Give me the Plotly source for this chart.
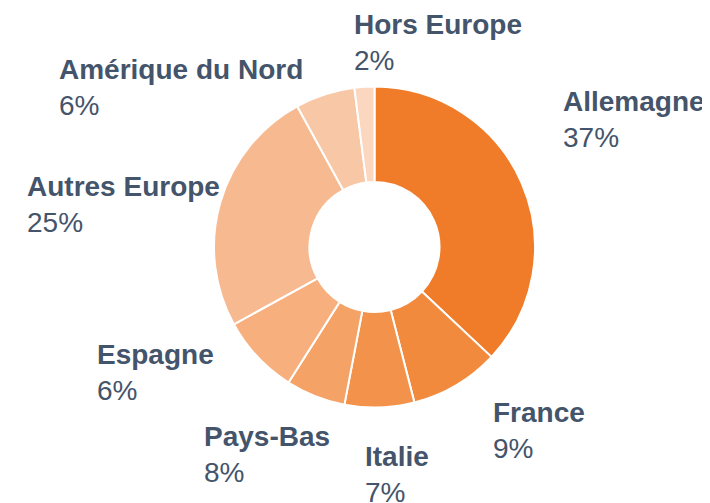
import plotly.graph_objects as go

# Répartition géographique (en %), dans le sens horaire à partir de midi
regions = [
    "Allemagne",
    "France",
    "Italie",
    "Espagne",
    "Pays-Bas",
    "Autres Europe",
    "Amérique du Nord",
    "Hors Europe",
]
shares = [37, 9, 7, 6, 8, 25, 6, 2]
colors = [
    "#F07B28",
    "#F28A3D",
    "#F3924B",
    "#F4A266",
    "#F6AF7D",
    "#F7B990",
    "#F8C7A6",
    "#FAD7BE",
]

W, H = 710, 503
PAGE = 8  # default body margin of the html page: figure starts at (8, 8)
TEXT_COLOR = "#44546A"
FONT = "Liberation Sans, Arial, sans-serif"

# pie placement (page pixels): centre and outer radius
cx, cy, r = 374.5 - PAGE, 247 - PAGE, 160.5

# label placement (page pixels): left edge of text, top of capital letters
label_pos = {
    "Allemagne": (564, 92),
    "France": (494, 403),
    "Italie": (366, 447),
    "Pays-Bas": (205, 427),
    "Espagne": (98, 345),
    "Autres Europe": (28, 177),
    "Amérique du Nord": (60, 60),
    "Hors Europe": (355, 15),
}

fig = go.Figure(
    go.Pie(
        labels=regions,
        values=shares,
        hole=65 / 160.5,
        sort=False,
        direction="clockwise",
        rotation=0,
        textinfo="none",
        marker={"colors": colors, "line": {"color": "white", "width": 2}},
        domain={
            "x": [(cx - r) / W, (cx + r) / W],
            "y": [(H - cy - r) / H, (H - cy + r) / H],
        },
        showlegend=False,
    )
)

total = sum(shares)
for name, val in zip(regions, shares):
    px, py = label_pos[name]
    # text box padding: ~3 px left of glyphs, ~8 px above cap height
    fx, fy = px - PAGE - 3, py - PAGE - 8
    fig.add_annotation(
        x=fx / W,
        y=1 - fy / H,
        xref="paper",
        yref="paper",
        xanchor="left",
        yanchor="top",
        align="left",
        showarrow=False,
        text=f"<b>{name}</b><br>{round(100 * val / total)}%",
        font={"family": FONT, "size": 28, "color": TEXT_COLOR},
    )

fig.update_layout(
    width=W,
    height=H,
    margin={"l": 0, "r": 0, "t": 0, "b": 0},
    paper_bgcolor="white",
    plot_bgcolor="white",
)

fig.write_html("out.html")
